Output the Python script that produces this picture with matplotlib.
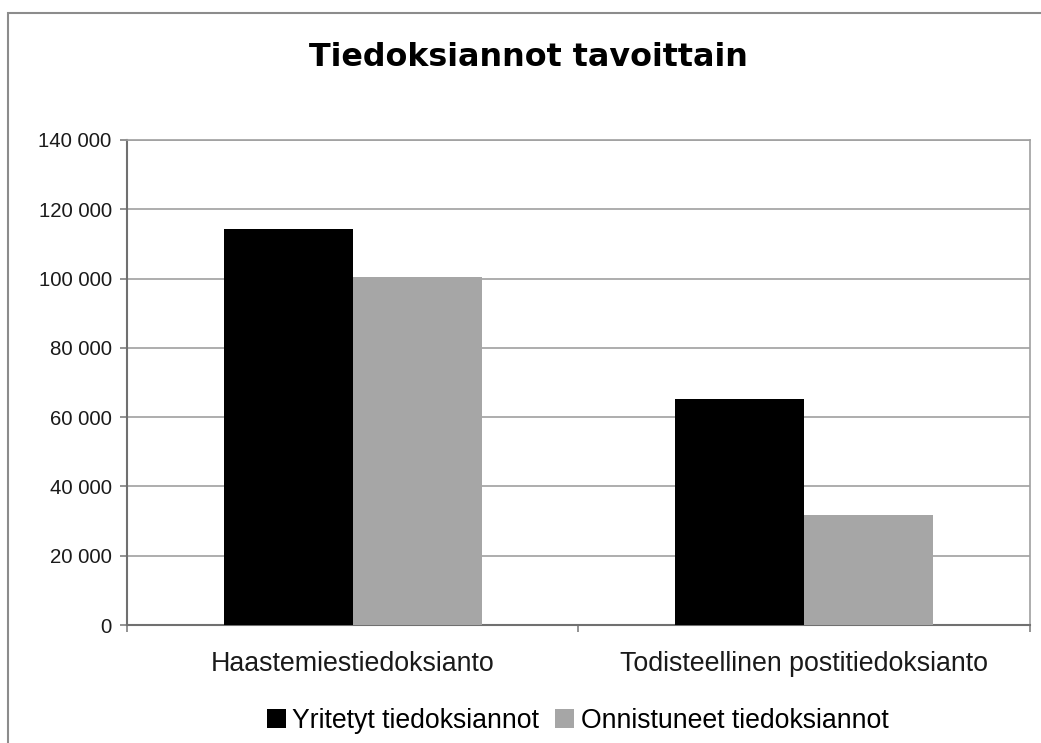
import matplotlib.pyplot as plt
from matplotlib.patches import Rectangle
import numpy as np

plt.rcParams['font.family'] = ['Liberation Sans', 'DejaVu Sans']

# Data
categories = ["Haastemiestiedoksianto", "Todisteellinen postitiedoksianto"]
series_names = ["Yritetyt tiedoksiannot", "Onnistuneet tiedoksiannot"]
attempted = [114300, 65200]
succeeded = [100400, 31800]
y_ticks = [0, 20000, 40000, 60000, 80000, 100000, 120000, 140000]

fig = plt.figure(figsize=(10.41, 7.43), dpi=100)
ax = fig.add_axes([0.122, 0.1588, 0.8674, 0.6528])

# Outer chart frame (cropped at right/bottom like the scan)
fig.patches.append(Rectangle((8 / 1041, -0.05), 1.1, 1 - 13 / 743 + 0.05,
                             transform=fig.transFigure, fill=False,
                             edgecolor="#8c8c8c", linewidth=1.5, clip_on=False))

x = np.arange(len(categories))
w = 0.286
ax.bar(x - w / 2, attempted, w, color="black", label=series_names[0], zorder=3)
ax.bar(x + w / 2, succeeded, w, color="#a6a6a6", label=series_names[1], zorder=3)

ax.set_xlim(-0.5, 1.5)
ax.set_ylim(0, 140000)
ax.set_yticks(y_ticks)
ax.set_yticklabels([f"{v:,}".replace(",", " ") for v in y_ticks])
ax.set_xticks(x)
ax.set_xticklabels(categories)
ax.set_xticks([-0.5, 0.5, 1.5], minor=True)
ax.tick_params(axis="x", which="major", length=0, pad=19, labelsize=19.3, colors="#1a1a1a")
ax.tick_params(axis="x", which="minor", length=5, color="#808080", width=1.2)
ax.tick_params(axis="y", length=5, width=1.2, labelsize=14.7, pad=6,
               colors="#808080", labelcolor="#1a1a1a")

ax.grid(axis="y", color="#a0a0a0", linewidth=1.2, zorder=0)
for side in ["top", "right"]:
    ax.spines[side].set_color("#a0a0a0")
    ax.spines[side].set_linewidth(1.2)
for side in ["left", "bottom"]:
    ax.spines[side].set_color("#707070")
    ax.spines[side].set_linewidth(1.5)

fig.text(0.508, 1 - 57 / 743, "Tiedoksiannot tavoittain", ha="center", va="center",
         fontsize=22.9, fontweight="bold", family="DejaVu Sans")

fig.legend(loc="center", bbox_to_anchor=(0.555, 1 - 721 / 743), ncol=2,
           frameon=False, fontsize=19.2, handlelength=0.7, handleheight=0.7,
           handletextpad=0.25, columnspacing=0.6)

fig.savefig("out.png", dpi=100, facecolor="white")
